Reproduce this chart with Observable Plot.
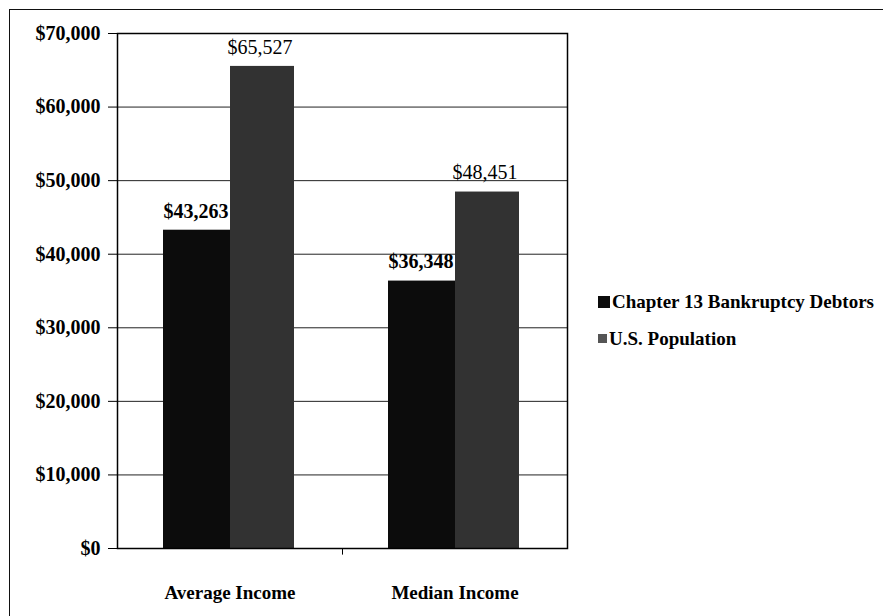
<!DOCTYPE html>
<html>
<head>
<meta charset="utf-8">
<script src="https://cdn.jsdelivr.net/npm/d3@7"></script>
<script src="https://cdn.jsdelivr.net/npm/@observablehq/plot@0.6"></script>
<style>
  html, body { margin: 0; padding: 0; background: #fff; }
  #wrap { position: relative; width: 883px; height: 616px; overflow: hidden; background: #fff; }
  #border { position: absolute; left: 9px; top: 9px; width: 900px; height: 700px;
            border-left: 1.5px solid #111; border-top: 1.5px solid #111; box-sizing: border-box; }
  #chart { position: absolute; left: 0; top: 0; }
  #legend { position: absolute; left: 598px; top: 283px; font-family: "Liberation Serif", serif;
            font-weight: bold; font-size: 19px; color: #000; line-height: 37px; }
  .item { display: flex; align-items: center; white-space: nowrap; }
  .sw { display: inline-block; margin-right: 2px; }
</style>
</head>
<body>
<div id="wrap">
  <div id="border"></div>
  <div id="chart"></div>
  <div id="legend"></div>
</div>
<script>
const categories = ["Average Income", "Median Income"];
const seriesNames = ["Chapter 13 Bankruptcy Debtors", "U.S. Population"];
const debtorValues = [43263, 36348];
const populationValues = [65527, 48451];
const yTicks = [0, 10000, 20000, 30000, 40000, 50000, 60000, 70000];
const seriesColors = ["#0c0c0c", "#323232"];

const debtors = categories.map((c, i) => ({category: c, value: debtorValues[i]}));
const population = categories.map((c, i) => ({category: c, value: populationValues[i]}));
const fmt = d => "$" + d3.format(",")(d);

const serif = "Liberation Serif, Times New Roman, serif";

const plot = Plot.plot({
  width: 883,
  height: 616,
  marginLeft: 117,
  marginRight: 316,
  marginTop: 33,
  marginBottom: 68,
  style: {fontFamily: serif, color: "#000", background: "transparent"},
  x: {domain: categories, padding: 0, axis: null},
  y: {domain: [0, 70000], axis: null},
  marks: [
    Plot.ruleY(yTicks.slice(1, -1), {stroke: "#222", strokeWidth: 1}),
    Plot.barY(debtors, {x: "category", y: "value", fill: seriesColors[0], insetLeft: 46, insetRight: 112}),
    Plot.barY(population, {x: "category", y: "value", fill: seriesColors[1], insetLeft: 113, insetRight: 48}),
    Plot.text(debtors, {x: "category", y: "value", text: d => fmt(d.value), dx: -34, dy: -19,
      fontSize: 20, fontWeight: "bold", fill: "#000"}),
    Plot.text(population, {x: "category", y: "value", text: d => fmt(d.value), dx: 30, dy: -19,
      fontSize: 20, fontWeight: "normal", fill: "#000"}),
    Plot.frame({stroke: "#000", strokeWidth: 1.5}),
    Plot.ruleX([categories[0]], {x: d => d, dx: 112.5, y1: 0, y2: -900, stroke: "#000"}),
    Plot.axisY({ticks: yTicks, tickFormat: fmt, tickSize: 9, tickPadding: 8, label: null,
      fontSize: 20, fontWeight: "bold", letterSpacing: 0}),
    Plot.axisX({tickSize: 0, tickPadding: 37, label: null, fontSize: 19, fontWeight: "bold"})
  ]
});
document.getElementById("chart").appendChild(plot);

const legend = document.getElementById("legend");
seriesNames.forEach((name, i) => {
  const item = document.createElement("div");
  item.className = "item";
  const sw = document.createElement("span");
  sw.className = "sw";
  const s = i === 0 ? 12 : 9;
  sw.style.width = s + "px";
  sw.style.height = s + "px";
  sw.style.background = i === 0 ? seriesColors[0] : "#555";
  item.appendChild(sw);
  item.appendChild(document.createTextNode(name));
  legend.appendChild(item);
});
</script>
</body>
</html>
